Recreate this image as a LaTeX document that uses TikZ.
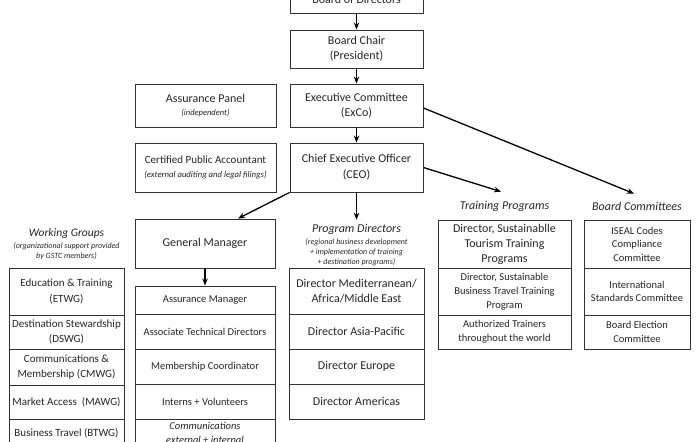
\documentclass[tikz,border=0pt]{standalone}
\usepackage{fontspec}
\setmainfont{Carlito}
\usetikzlibrary{arrows.meta,calc}
\begin{document}
\begin{tikzpicture}[x=1pt,y=-1pt,
  box/.style={draw=black!80, line width=0.9pt, align=center, inner sep=1pt, text=black!85},
  big/.style={font=\fontsize{12}{15}\selectfont},
  mid/.style={font=\fontsize{10.5}{14}\selectfont},
  wgf/.style={font=\fontsize{11}{15.5}\selectfont},
  small/.style={font=\fontsize{10.5}{13.5}\selectfont},
  head/.style={font=\fontsize{12}{14}\selectfont\itshape, inner sep=1pt, text=black!85},
  sub/.style={font=\fontsize{8}{9.8}\selectfont\itshape, align=center, inner sep=0pt, text=black!85},
  note/.style={font=\fontsize{8.5}{10}\selectfont\itshape},
  arr/.style={-{Stealth[length=7pt,width=5.5pt]}, line width=1.3pt, black}]
\useasboundingbox (0,0) rectangle (700,441);

% top chain
\node[box,big,minimum width=133pt,minimum height=28pt] (bod) at (356.5,-1) {Board of Directors};
\node[box,big,minimum width=133pt,minimum height=38pt] (chair) at (356.5,49) {Board Chair\\(President)};
\node[box,big,minimum width=133pt,minimum height=43pt] (exco) at (356.5,105.5) {Executive Committee\\(ExCo)};
\node[box,big,minimum width=133pt,minimum height=49pt] (ceo) at (356.5,167.5) {Chief Executive Officer\\[1pt](CEO)};
\node[box,big,minimum width=141pt,minimum height=43pt] (panel) at (205.5,105.5) {Assurance Panel\\[-2pt]{\fontsize{8.5}{10}\selectfont\itshape (independent)}};
\node[box,font=\fontsize{11}{13.5}\selectfont,minimum width=141pt,minimum height=49pt] (cpa) at (205.5,167.5) {Certified Public Accountant\\{\fontsize{8.7}{10}\selectfont\itshape (external auditing and legal filings)}};

% general manager column
\node[box,big,minimum width=140pt,minimum height=49pt] (gm) at (205,243.5) {General Manager};
\node[box,mid,minimum width=140pt,minimum height=28pt] (gm1) at (205,300) {Assurance Manager};
\node[box,mid,minimum width=140pt,minimum height=35pt] (gm2) at (205,331.5) {Associate Technical Directors};
\node[box,mid,minimum width=140pt,minimum height=35pt] (gm3) at (205,366.5) {Membership Coordinator};
\node[box,mid,minimum width=140pt,minimum height=35pt] (gm4) at (205,401.5) {Interns + Volunteers};
\node[box,mid,minimum width=140pt,minimum height=28pt,font=\fontsize{10.5}{14}\selectfont\itshape] (gm5) at (205,433) {Communications\\external + internal};

% working groups
\node[head,font=\fontsize{11.5}{14}\selectfont\itshape] (wghead) at (66.5,233) {Working Groups};
\node[sub] (wgsub) at (66.5,251.5) {(organizational support provided\\by GSTC members)};
\node[box,wgf,minimum width=115pt,minimum height=47pt] (wg1) at (66.5,291.5) {Education \& Training\\(ETWG)};
\node[box,wgf,minimum width=115pt,minimum height=34pt] (wg2) at (66.5,332) {Destination Stewardship\\(DSWG)};
\node[box,wgf,minimum width=115pt,minimum height=36pt] (wg3) at (66.5,367) {Communications \&\\Membership (CMWG)};
\node[box,wgf,minimum width=115pt,minimum height=34pt] (wg4) at (66.5,402) {Market Access~~(MAWG)};
\node[box,wgf,minimum width=115pt,minimum height=28pt] (wg5) at (66.5,433) {Business Travel (BTWG)};

% program directors
\node[head] (pdhead) at (356.5,229) {Program Directors};
\node[sub] (pdsub) at (356.5,252) {(regional business development\\+ implementation of training\\+ destination programs)};
\node[box,big,minimum width=135pt,minimum height=46pt] (pd1) at (356.5,291) {Director Mediterranean/\\Africa/Middle East};
\node[box,big,minimum width=135pt,minimum height=35pt] (pd2) at (356.5,331.5) {Director Asia-Pacific};
\node[box,big,minimum width=135pt,minimum height=35pt] (pd3) at (356.5,366.5) {Director Europe};
\node[box,big,minimum width=135pt,minimum height=35pt] (pd4) at (356.5,401.5) {Director Americas};

% training programs
\node[head] (tphead) at (504.5,206) {Training Programs};
\node[box,big,minimum width=133pt,minimum height=48pt] (tp1) at (504.5,244) {Director, Sustainablle\\Tourism Training\\Programs};
\node[box,mid,minimum width=133pt,minimum height=47pt] (tp2) at (504.5,291.5) {Director, Sustainable\\Business Travel Training\\Program};
\node[box,mid,minimum width=133pt,minimum height=34pt] (tp3) at (504.5,332) {Authorized Trainers\\throughout the world};

% board committees
\node[head] (bchead) at (637,206) {Board Committees};
\node[box,small,minimum width=106pt,minimum height=48pt] (bc1) at (637,244) {ISEAL Codes\\Compliance\\Committee};
\node[box,small,minimum width=106pt,minimum height=47pt] (bc2) at (637,291.5) {International\\Standards Committee};
\node[box,small,minimum width=106pt,minimum height=34pt] (bc3) at (637,332) {Board Election\\Committee};

% connectors
\draw[arr] (bod) -- (chair);
\draw[arr] (chair) -- (exco);
\draw[arr] (exco) -- (ceo);
\draw[arr,shorten >=3pt] (ceo) -- (pdhead);
\draw[arr] (ceo.south west) -- ($(gm.north)+(33,0)$);
\draw[arr] (gm) -- (gm1);
\draw[arr] ($(exco.east)+(0,2.5)$) -- ($(bchead.north)+(-3,-7)$);
\draw[arr] (ceo.east) -- ($(tphead.north)+(-3.5,-8)$);
\end{tikzpicture}
\end{document}
